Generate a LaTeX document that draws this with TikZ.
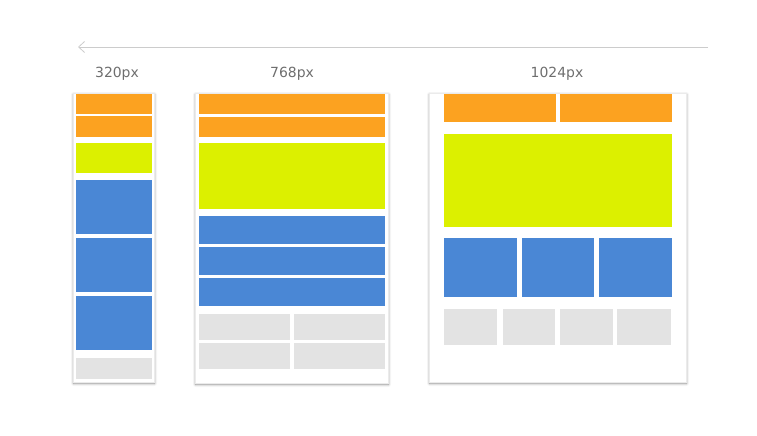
\documentclass[tikz,border=0pt]{standalone}
\usepackage{fontspec}
\setmainfont{DejaVu Sans}
\usetikzlibrary{arrows.meta,shadows.blur}
\definecolor{tabOrange}{HTML}{FCA220}
\definecolor{tabLime}{HTML}{DCF000}
\definecolor{tabBlue}{HTML}{4A87D5}
\definecolor{tabGray}{HTML}{E3E3E3}
\definecolor{rulerGray}{HTML}{CCCCCC}
\definecolor{labelGray}{HTML}{6E6E6E}
\newcommand{\Tile}[6]{
  \node[#1, anchor=north west, minimum width=#5bp, minimum height=#6bp] (#2) at (#3,#4) {};
}
\tikzset{
  frame/.style = {draw=black!8, fill=white, inner sep=0pt, outer sep=0pt,
                  blur shadow={shadow blur steps=6, shadow blur radius=2.5bp,
                               shadow xshift=0.5bp, shadow yshift=-1.5bp, shadow opacity=45}},
  head/.style  = {fill=tabOrange, inner sep=0pt, outer sep=0pt},
  hero/.style  = {fill=tabLime, inner sep=0pt, outer sep=0pt},
  card/.style  = {fill=tabBlue, inner sep=0pt, outer sep=0pt},
  foot/.style  = {fill=tabGray, inner sep=0pt, outer sep=0pt},
  width/.style = {text=labelGray, font=\fontsize{14}{16}\selectfont, anchor=base},
  ruler/.style = {draw=rulerGray, line width=0.8bp, -{Straight Barb[length=6bp, width=11bp]}}
}
\begin{document}
\begin{tikzpicture}[x=1bp, y=-1bp]
  \useasboundingbox (0,0) rectangle (757,436);
  \coordinate (rulerR) at (708,47);
  \coordinate (rulerL) at (78,47);
  \draw[ruler] (rulerR) -- (rulerL);
  \node[width] (w320) at (117,78) {320px};
  \node[width] (w768) at (292,78) {768px};
  \node[width] (w1024) at (557,78) {1024px};
  \Tile{frame}{phone}{73}{93}{81}{289}
  \Tile{head}{phoneH1}{76}{94}{76}{20}
  \Tile{head}{phoneH2}{76}{116}{76}{21}
  \Tile{hero}{phoneY}{76}{143}{76}{30}
  \Tile{card}{phoneB1}{76}{180}{76}{54}
  \Tile{card}{phoneB2}{76}{238}{76}{54}
  \Tile{card}{phoneB3}{76}{296}{76}{54}
  \Tile{foot}{phoneG}{76}{358}{76}{21}
  \Tile{frame}{tablet}{195}{93}{193}{290}
  \Tile{head}{tabletH1}{199}{94}{186}{20}
  \Tile{head}{tabletH2}{199}{117}{186}{20}
  \Tile{hero}{tabletY}{199}{143}{186}{66}
  \Tile{card}{tabletB1}{199}{216}{186}{28}
  \Tile{card}{tabletB2}{199}{247}{186}{28}
  \Tile{card}{tabletB3}{199}{278}{186}{28}
  \Tile{foot}{tabletG1}{199}{314}{91}{26}
  \Tile{foot}{tabletG2}{294}{314}{91}{26}
  \Tile{foot}{tabletG3}{199}{343}{91}{26}
  \Tile{foot}{tabletG4}{294}{343}{91}{26}
  \Tile{frame}{desk}{429}{93}{257}{289}
  \Tile{head}{deskH1}{444}{94}{112}{28}
  \Tile{head}{deskH2}{560}{94}{112}{28}
  \Tile{hero}{deskY}{444}{134}{228}{93}
  \Tile{card}{deskB1}{444}{238}{73}{59}
  \Tile{card}{deskB2}{522}{238}{72}{59}
  \Tile{card}{deskB3}{599}{238}{73}{59}
  \Tile{foot}{deskG1}{444}{309}{53}{36}
  \Tile{foot}{deskG2}{503}{309}{52}{36}
  \Tile{foot}{deskG3}{560}{309}{53}{36}
  \Tile{foot}{deskG4}{617}{309}{54}{36}
\end{tikzpicture}
\end{document}
